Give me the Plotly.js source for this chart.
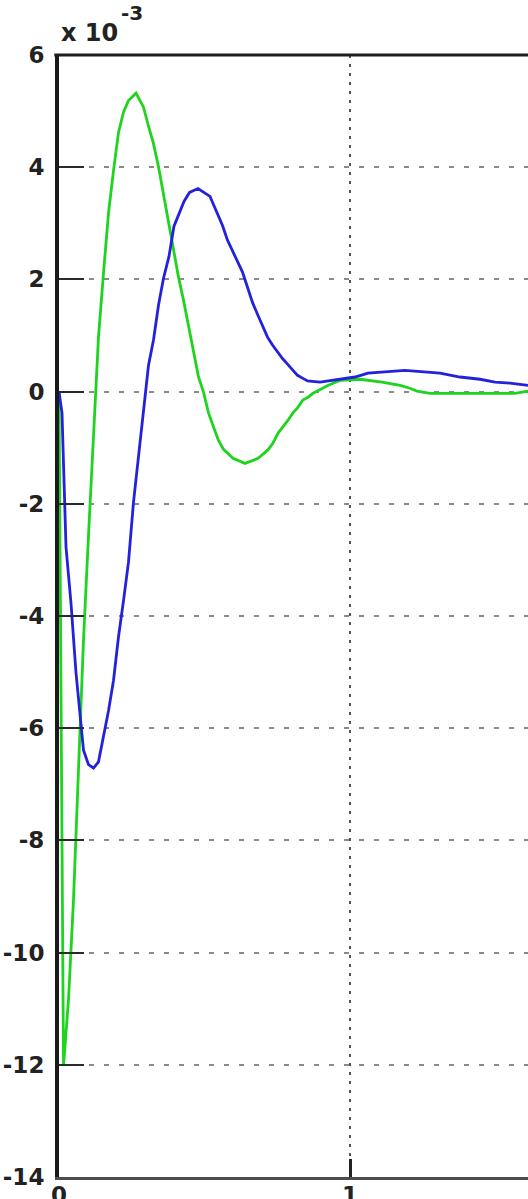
<!DOCTYPE html>
<html>
<head>
<meta charset="utf-8">
<script src="https://cdn.plot.ly/plotly-3.0.1.min.js"></script>
<style>
  html, body { margin: 0; padding: 0; background: #ffffff; overflow: hidden; }
  #chart { width: 528px; height: 1199px; }
</style>
</head>
<body>
<div id="chart"></div>
<script>
// values in units of 1e-3
const greenX = [0, 0.0155, 0.0326, 0.0498, 0.0670, 0.0842, 0.1014, 0.1186, 0.1357, 0.1529, 0.1701, 0.1873, 0.2045, 0.2216, 0.2388, 0.2646, 0.2904, 0.3076, 0.3247, 0.3419, 0.3591, 0.3763, 0.3935, 0.4107, 0.4278, 0.4450, 0.4622, 0.4794, 0.4966, 0.5137, 0.5309, 0.5481, 0.5653, 0.598, 0.639, 0.684, 0.718, 0.735, 0.753, 0.770, 0.787, 0.804, 0.821, 0.838, 0.856, 0.873, 0.890, 0.907, 0.924, 0.942, 0.966, 1.034, 1.110, 1.172, 1.206, 1.230, 1.275, 1.412, 1.567, 1.612];
const greenY = [0, -12.02, -10.84, -9.06, -6.74, -4.43, -2.56, -0.69, 0.97, 2.11, 3.18, 3.94, 4.62, 4.98, 5.19, 5.32, 5.07, 4.73, 4.42, 4.01, 3.50, 3.05, 2.55, 2.04, 1.63, 1.15, 0.68, 0.26, -0.01, -0.38, -0.63, -0.87, -1.03, -1.19, -1.28, -1.19, -1.04, -0.92, -0.74, -0.63, -0.51, -0.38, -0.28, -0.15, -0.10, -0.03, 0.02, 0.06, 0.11, 0.15, 0.20, 0.22, 0.17, 0.11, 0.06, 0.01, -0.03, -0.03, -0.03, 0.01];

const blueX = [0, 0.0103, 0.0241, 0.0412, 0.0584, 0.0687, 0.0842, 0.1014, 0.1186, 0.1357, 0.1529, 0.1701, 0.1873, 0.2045, 0.2216, 0.2388, 0.2560, 0.2732, 0.2904, 0.3076, 0.3247, 0.3419, 0.3591, 0.3780, 0.3952, 0.4124, 0.4296, 0.4485, 0.4777, 0.5189, 0.5447, 0.5619, 0.5790, 0.5962, 0.6134, 0.6306, 0.6478, 0.6649, 0.6821, 0.6993, 0.7165, 0.7337, 0.7509, 0.7680, 0.7852, 0.8024, 0.8196, 0.8368, 0.8540, 0.8969, 0.9656, 1.0172, 1.0619, 1.1890, 1.3093, 1.3780, 1.4467, 1.4983, 1.5498, 1.6117];
const blueY = [0, -0.38, -2.77, -3.77, -5.01, -5.58, -6.39, -6.65, -6.71, -6.60, -6.17, -5.69, -5.15, -4.37, -3.73, -3.04, -1.97, -1.13, -0.38, 0.47, 0.92, 1.54, 2.02, 2.41, 2.95, 3.18, 3.39, 3.55, 3.62, 3.48, 3.18, 2.96, 2.70, 2.52, 2.34, 2.13, 1.86, 1.59, 1.38, 1.16, 0.97, 0.83, 0.70, 0.59, 0.49, 0.38, 0.29, 0.24, 0.19, 0.17, 0.22, 0.26, 0.33, 0.38, 0.33, 0.26, 0.22, 0.17, 0.15, 0.11];

const yTickVals = [-14, -12, -10, -8, -6, -4, -2, 0, 2, 4, 6];
const yTickText = ['-14', '-12', '-10', '-8', '-6', '-4', '-2', '0', '2', '4', '6'];
const xTickVals = [0, 1, 2];
const xTickText = ['0', '1', '2'];
const exponentBase = 'x 10';
const exponentPower = '-3';

const tickFont = { family: 'DejaVu Sans, sans-serif', size: 23, color: '#222222', weight: 'bold' };

const traces = [
  { x: greenX, y: greenY, type: 'scatter', mode: 'lines', line: { color: '#1fd41f', width: 2.8 }, hoverinfo: 'skip' },
  { x: blueX, y: blueY, type: 'scatter', mode: 'lines', line: { color: '#2222dc', width: 2.8 }, hoverinfo: 'skip' }
];

const layout = {
  width: 528,
  height: 1199,
  margin: { l: 59, r: 0, t: 55, b: 22, pad: 0 },
  paper_bgcolor: '#ffffff',
  plot_bgcolor: '#ffffff',
  showlegend: false,
  xaxis: {
    range: [0, 1.6117],
    tickvals: xTickVals,
    ticktext: xTickText,
    ticks: 'inside',
    ticklen: 18,
    tickwidth: 3,
    tickcolor: '#222222',
    showgrid: true,
    gridcolor: '#555555',
    gridwidth: 2,
    griddash: '3px,6px',
    zeroline: false,
    showline: true,
    linecolor: '#4d4d4d',
    linewidth: 3,
    tickfont: tickFont,
    ticklabelstandoff: -5,
    fixedrange: true
  },
  yaxis: {
    range: [-14, 6],
    tickvals: yTickVals,
    ticktext: yTickText,
    ticks: 'inside',
    ticklen: 25,
    tickwidth: 2,
    tickcolor: '#2a2a2a',
    showgrid: true,
    gridcolor: '#8a8a8a',
    gridwidth: 2,
    griddash: '5px,10px',
    zeroline: false,
    showline: true,
    linecolor: '#1a1a1a',
    linewidth: 4,
    tickfont: tickFont,
    ticklabelstandoff: 6,
    fixedrange: true
  },
  shapes: [
    { type: 'line', xref: 'paper', yref: 'paper', x0: -0.01, x1: 1.01, y0: 1, y1: 1, line: { color: '#1e1e1e', width: 3 } }
  ],
  annotations: [
    { text: exponentBase, xref: 'paper', yref: 'paper', x: 0, y: 1, xanchor: 'left', yanchor: 'bottom', xshift: 0, yshift: 6, showarrow: false, font: { family: 'DejaVu Sans, sans-serif', size: 24, color: '#222222', weight: 'bold' } },
    { text: exponentPower, xref: 'paper', yref: 'paper', x: 0, y: 1, xanchor: 'left', yanchor: 'bottom', xshift: 60, yshift: 28, showarrow: false, font: { family: 'DejaVu Sans, sans-serif', size: 20, color: '#222222', weight: 'bold' } }
  ]
};

Plotly.newPlot('chart', traces, layout, { displayModeBar: false, staticPlot: true });
</script>
</body>
</html>
